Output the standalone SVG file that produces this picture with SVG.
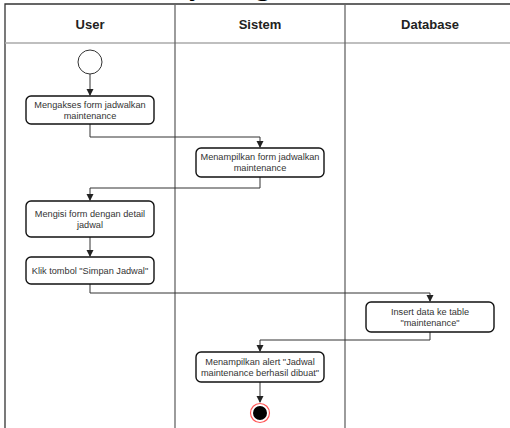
<svg xmlns="http://www.w3.org/2000/svg" width="510" height="428" viewBox="0 0 510 428">
<style>
.title{font-family:"Liberation Serif","Times New Roman",serif;font-size:30px;fill:#000}
.hdr{font-family:"Liberation Sans",Arial,sans-serif;font-size:13px;font-weight:bold;fill:#222;text-anchor:middle}
.lbl{font-family:"Liberation Sans",Arial,sans-serif;font-size:9.2px;fill:#333;text-anchor:middle}
.box{fill:#fff;stroke:#111;stroke-width:1.4}
.frame{fill:none;stroke:#333;stroke-width:1.3}
.lane{fill:none;stroke:#666;stroke-width:1.3}
.hline{stroke:#aaa;stroke-width:1.5}
.edge{fill:none;stroke:#333;stroke-width:1}
</style>
<defs>
<marker id="arr" markerWidth="8" markerHeight="8" refX="6" refY="3.5" orient="auto" markerUnits="userSpaceOnUse">
<path d="M0,0 L7,3.5 L0,7 z" fill="#222"/>
</marker>
</defs>
<rect width="510" height="428" fill="#fff"/>
<text class="title" x="106" y="-5">Activity Diagram</text>
<g id="frame">
<path class="frame" d="M5,430 V4 H515"/>
<line class="hline" x1="5" y1="43" x2="515" y2="43"/>
<line class="lane" x1="175" y1="4" x2="175" y2="430"/>
<line class="lane" x1="345" y1="4" x2="345" y2="430"/>
<text class="hdr" x="90" y="29">User</text>
<text class="hdr" x="260" y="29">Sistem</text>
<text class="hdr" x="430" y="29">Database</text>
</g>
<g id="connectors">
<path class="edge" d="M90,74 V95" marker-end="url(#arr)"/>
<path class="edge" d="M90,124 V137 H260 V147" marker-end="url(#arr)"/>
<path class="edge" d="M260,177 V188 H90 V200" marker-end="url(#arr)"/>
<path class="edge" d="M90,237 V256" marker-end="url(#arr)"/>
<path class="edge" d="M90,284 V293 H430 V301" marker-end="url(#arr)"/>
<path class="edge" d="M430,332 V340 H260 V351" marker-end="url(#arr)"/>
<path class="edge" d="M260,382 V402" marker-end="url(#arr)"/>
</g>
<g id="start">
<circle cx="90" cy="62" r="12" fill="#fff" stroke="#333" stroke-width="1"/>
</g>
<g id="n1">
<rect class="box" x="26" y="96" width="128" height="28" rx="5"/>
<text class="lbl" x="90" y="108">Mengakses form jadwalkan</text>
<text class="lbl" x="90" y="119">maintenance</text>
</g>
<g id="n2">
<rect class="box" x="196" y="148" width="128" height="29" rx="5"/>
<text class="lbl" x="260" y="160">Menampilkan form jadwalkan</text>
<text class="lbl" x="260" y="171">maintenance</text>
</g>
<g id="n3">
<rect class="box" x="26" y="201" width="128" height="36" rx="5"/>
<text class="lbl" x="90" y="217">Mengisi form dengan detail</text>
<text class="lbl" x="90" y="228">jadwal</text>
</g>
<g id="n4">
<rect class="box" x="26" y="257" width="128" height="27" rx="5"/>
<text class="lbl" x="90" y="274">Klik tombol "Simpan Jadwal"</text>
</g>
<g id="n5">
<rect class="box" x="366" y="302" width="128" height="30" rx="5"/>
<text class="lbl" x="430" y="315">Insert data ke table</text>
<text class="lbl" x="430" y="326">"maintenance"</text>
</g>
<g id="n6">
<rect class="box" x="196" y="352" width="128" height="30" rx="5"/>
<text class="lbl" x="260" y="365">Menampilkan alert "Jadwal</text>
<text class="lbl" x="260" y="376">maintenance berhasil dibuat"</text>
</g>
<g id="end">
<circle cx="260" cy="413" r="9.5" fill="#fff" stroke="#f55" stroke-width="1.2"/>
<circle cx="260" cy="413" r="7" fill="#000"/>
</g>
</svg>
